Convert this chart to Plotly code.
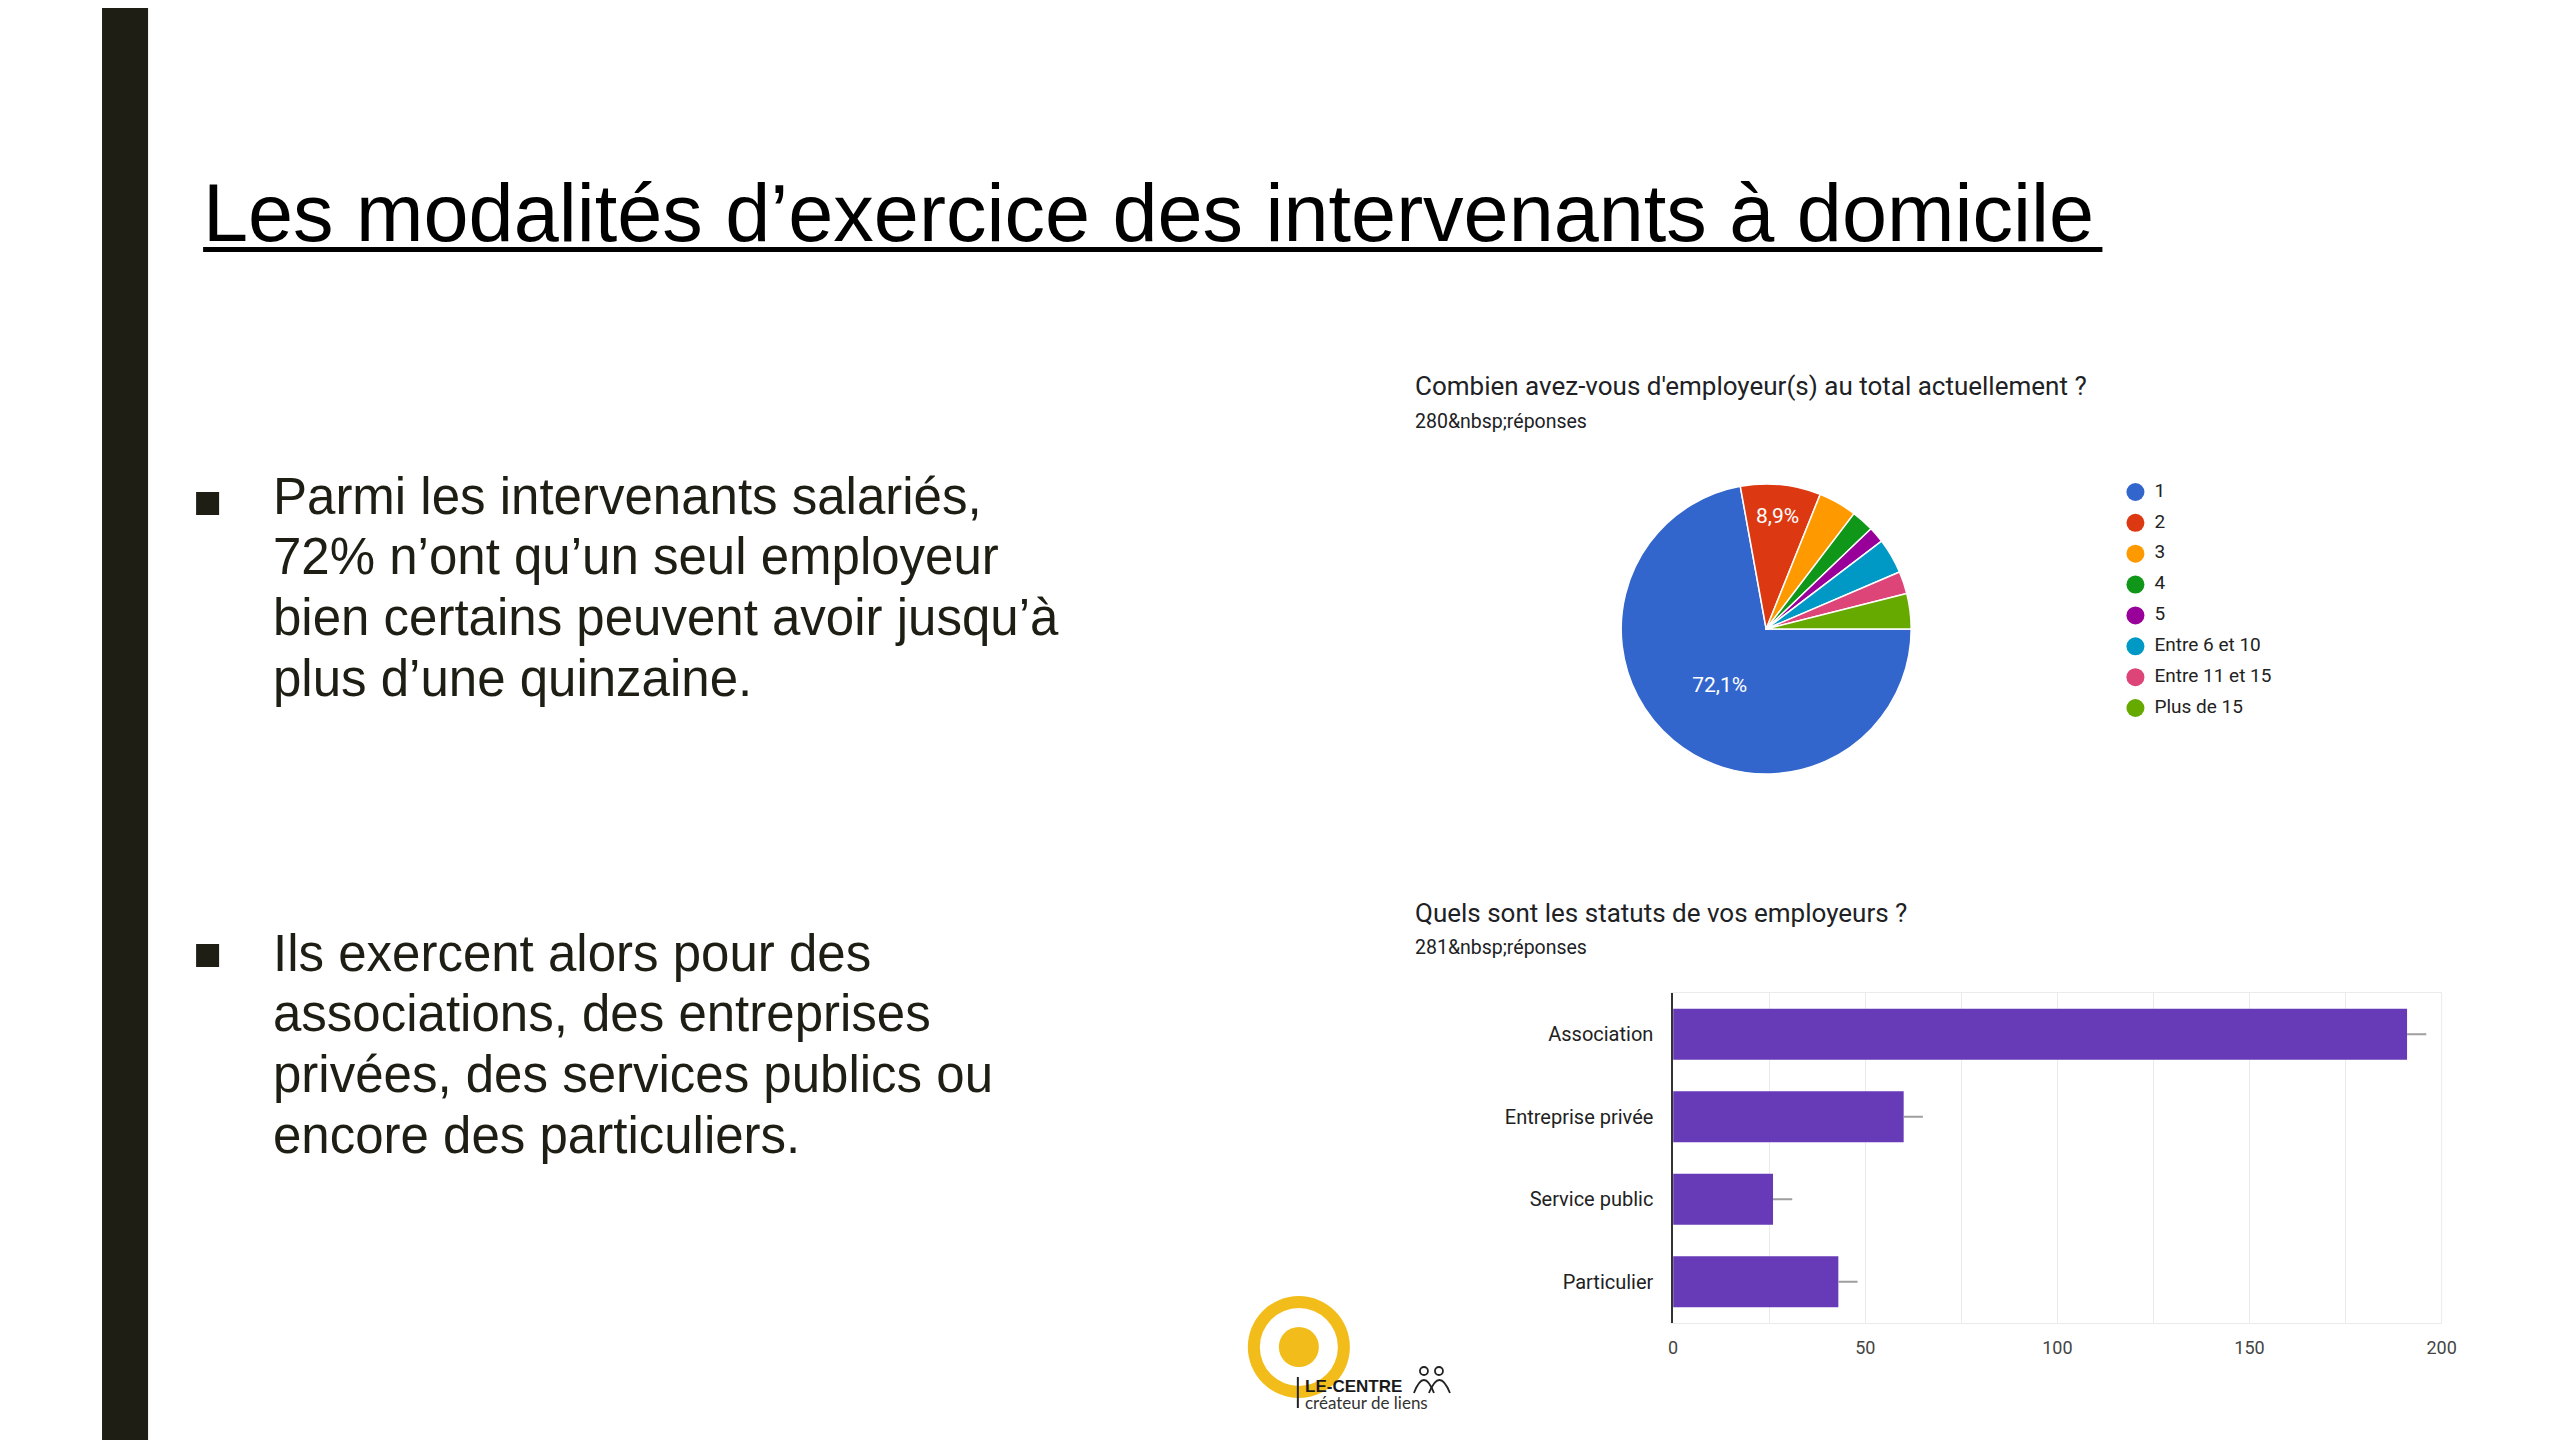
import plotly.graph_objects as go

W, H = 2560, 1440
OFF = 8            # default body margin of the html page
SX, CX = 0.9915, 5.1   # measured horizontal page->screenshot mapping

# ---------------- data ----------------
slide_title = "Les modalités d’exercice des intervenants à domicile"
bullet1_lines = ["Parmi les intervenants salariés,", "72% n’ont qu’un seul employeur",
                 "bien certains peuvent avoir jusqu’à", "plus d’une quinzaine."]
bullet2_lines = ["Ils exercent alors pour des", "associations, des entreprises",
                 "privées, des services publics ou", "encore des particuliers."]

pie_title = "Combien avez-vous d'employeur(s) au total actuellement ?"
pie_subtitle = "280&amp;nbsp;réponses"
pie_labels = ["1", "2", "3", "4", "5", "Entre 6 et 10", "Entre 11 et 15", "Plus de 15"]
pie_counts = [202, 25, 12, 7, 5, 11, 7, 11]
pie_colors = ["#3366cc", "#dc3912", "#ff9900", "#109618", "#990099", "#0099c6", "#dd4477", "#66aa00"]

bar_title = "Quels sont les statuts de vos employeurs ?"
bar_subtitle = "281&amp;nbsp;réponses"
bar_categories = ["Association", "Entreprise privée", "Service public", "Particulier"]
bar_values = [191, 60, 26, 43]
bar_stub = [5, 5, 5, 5]
bar_ticks = [0, 50, 100, 150, 200]

logo_name = "LE-CENTRE"
logo_tagline = "créateur de liens"

# ---------------- helpers (target pixel -> paper) ----------------
def X(px):
    page = (px - CX) / SX
    return (page - OFF) / W

def Y(py):
    return 1 - (py - OFF) / H

DARK = "#1e1e14"
YELLOW = "#f2bd1a"

fig = go.Figure()

# ---------------- pie ----------------
total = sum(pie_counts)
pie_text = [(f"{v / total * 100:.1f}%".replace(".", ",") if v / total > 0.05 else "") for v in pie_counts]
fig.add_trace(go.Pie(
    labels=pie_labels, values=pie_counts, text=pie_text,
    texttemplate="%{text}", textposition="inside", insidetextorientation="horizontal",
    insidetextfont=dict(family="Roboto, Arial", size=21, color="white"),
    marker=dict(colors=pie_colors, line=dict(color="white", width=1.5)),
    sort=False, direction="clockwise", rotation=90,
    domain=dict(x=[X(1620), X(1910)], y=[Y(774), Y(484)]),
    showlegend=False, hoverinfo="label+percent",
))

# custom legend (circles) for the pie
fig.add_trace(go.Scatter(
    x=[0] * len(pie_labels), y=list(range(len(pie_labels))),
    mode="markers", marker=dict(size=18, color=pie_colors, line=dict(width=0)),
    xaxis="x3", yaxis="y3", showlegend=False, hoverinfo="skip", cliponaxis=False,
))
fig.add_trace(go.Scatter(
    x=[19] * len(pie_labels), y=list(range(len(pie_labels))), text=pie_labels,
    mode="text", textposition="middle right",
    textfont=dict(family="Roboto, Arial", size=19, color="#222222"),
    xaxis="x3", yaxis="y3", showlegend=False, hoverinfo="skip", cliponaxis=False,
))

# ---------------- bar chart ----------------
fig.add_trace(go.Bar(
    x=bar_values, y=bar_categories, orientation="h",
    marker=dict(color="#673ab7", line=dict(width=0)),
    error_x=dict(type="data", symmetric=False, array=bar_stub, arrayminus=[0] * len(bar_stub),
                 color="#9e9e9e", thickness=2, width=0),
    xaxis="x2", yaxis="y2", showlegend=False,
))

GRID = "#ebebeb"
leg_x0, leg_x1 = X(2114), X(2414)
fig.update_layout(
    width=W, height=H,
    margin=dict(l=0, r=0, t=0, b=0),
    paper_bgcolor="white", plot_bgcolor="rgba(0,0,0,0)",
    bargap=0.38,
    xaxis2=dict(domain=[X(1672), X(2440)], anchor="y2", range=[0, 200],
                tickvals=bar_ticks, ticktext=[str(t) for t in bar_ticks],
                showgrid=True, gridcolor=GRID, gridwidth=1,
                minor=dict(dtick=25, tick0=0, showgrid=True, gridcolor=GRID, gridwidth=1),
                showline=True, linecolor=GRID, linewidth=1, mirror=True,
                zeroline=False, ticks="", ticklabelstandoff=8,
                tickfont=dict(family="Roboto, Arial", size=18, color="#444444"),
                fixedrange=True),
    yaxis2=dict(domain=[Y(1323), Y(993)], anchor="x2",
                categoryorder="array", categoryarray=bar_categories, autorange="reversed",
                showgrid=False, showline=True, linecolor="#333333", linewidth=1.5,
                zeroline=False, ticks="", ticklabelstandoff=14,
                tickfont=dict(family="Roboto, Arial", size=20, color="#222222"),
                fixedrange=True),
    xaxis3=dict(domain=[leg_x0, leg_x1], anchor="y3", range=[-20, 280], visible=False,
                fixedrange=True),
    yaxis3=dict(domain=[Y(720), Y(480)], anchor="x3", range=[7.389, -0.389], visible=False,
                fixedrange=True),
)

# ---------------- decorative shapes ----------------
shapes = []
# left vertical band
shapes.append(dict(type="rect", xref="paper", yref="paper", x0=X(102), x1=X(148), y0=-0.02, y1=1.02,
                   fillcolor=DARK, line=dict(width=0), layer="below"))
# title underline
shapes.append(dict(type="line", xref="paper", yref="paper", x0=X(203), x1=X(2101), y0=Y(249.5), y1=Y(249.5),
                   line=dict(color="black", width=5)))
# bullet squares
for cy in (503.5, 955.5):
    shapes.append(dict(type="rect", xref="paper", yref="paper", x0=X(196), x1=X(219),
                       y0=Y(cy + 11.5), y1=Y(cy - 11.5), fillcolor=DARK, line=dict(width=0)))
# right edge of bar plot frame
shapes.append(dict(type="line", xref="paper", yref="paper", x0=X(2440), x1=X(2440), y0=Y(1323), y1=Y(993),
                   line=dict(color=GRID, width=1), layer="below"))

# logo: yellow ring + dot
def circ(cx, cy, r, fill, line_color=None, lw=0):
    return dict(type="circle", xref="paper", yref="paper",
                x0=X(cx - r), x1=X(cx + r), y0=Y(cy + r), y1=Y(cy - r),
                fillcolor=fill, line=dict(width=lw, color=line_color or fill))

shapes.append(circ(1298, 1347, 51, YELLOW))
shapes.append(circ(1298, 1347, 39, "white"))
shapes.append(circ(1298, 1347, 20, YELLOW))
# logo separator
shapes.append(dict(type="line", xref="paper", yref="paper", x0=X(1297), x1=X(1297), y0=Y(1408), y1=Y(1377),
                   line=dict(color="#222222", width=2)))
# people icon
for hx in (1423, 1438):
    shapes.append(circ(hx, 1371, 4, "rgba(0,0,0,0)", "#222222", 1.8))
for (a, b) in ((1413, 1433), (1428, 1449)):
    m = (a + b) / 2
    path = f"M {X(a)} {Y(1393)} Q {X(m)} {Y(1367)} {X(b)} {Y(1393)}"
    shapes.append(dict(type="path", xref="paper", yref="paper", path=path,
                       line=dict(color="#222222", width=1.8)))

fig.update_layout(shapes=shapes)

# ---------------- texts ----------------
ann = []

def txt(x, y, s, size, color, family, xanchor="left", weight=None):
    f = dict(size=size, color=color, family=family)
    if weight:
        f["weight"] = weight
    ann.append(dict(xref="paper", yref="paper", x=X(x), y=Y(y), text=s, showarrow=False,
                    xanchor=xanchor, yanchor="middle", font=f))

SANS = "Liberation Sans, Arial, sans-serif"
txt(201, 213, slide_title, 81, "black", SANS)

for i, line in enumerate(bullet1_lines):
    txt(271, 496 + i * 60.7, line, 51, DARK, SANS)
for i, line in enumerate(bullet2_lines):
    txt(271, 953 + i * 60.7, line, 51, DARK, SANS)

ROB = "Roboto, Arial, sans-serif"
txt(1412, 386, pie_title, 26, "#202124", ROB)
txt(1412, 421, pie_subtitle, 19.5, "#202124", ROB)
txt(1412, 913, bar_title, 26, "#202124", ROB)
txt(1412, 947, bar_subtitle, 19.5, "#202124", ROB)

txt(1302, 1386, logo_name, 17, "#1a1a1a", "Liberation Sans, Arial", weight="bold")
txt(1302, 1402, logo_tagline, 17, "#333333", "Lato, Liberation Sans, Arial")

fig.update_layout(annotations=ann)

fig.write_html("out.html")
